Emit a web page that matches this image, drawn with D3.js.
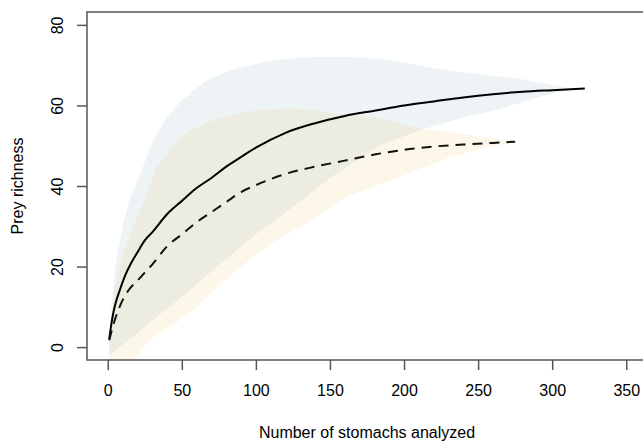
<!DOCTYPE html>
<html>
<head>
<meta charset="utf-8">
<script src="https://cdn.jsdelivr.net/npm/d3@7"></script>
<style>
  body { margin: 0; background: #fff; }
  svg { display: block; font-family: "Liberation Sans", Arial, sans-serif; }
</style>
</head>
<body>
<svg id="chart"></svg>
<script>
// mean accumulation curves (solid = group A, dashed = group B)
var solidX = [1, 3, 5, 8, 12, 16, 20, 25, 30, 40, 50, 60, 70, 80, 90, 100, 120, 140, 160, 180, 200, 220, 240, 260, 280, 300, 322];
var solidY = [2, 7, 10.5, 14, 18, 21, 23.5, 26.5, 28.5, 33, 36.3, 39.5, 42, 44.8, 47.2, 49.5, 53.2, 55.6, 57.4, 58.7, 60, 61, 62, 62.8, 63.4, 63.8, 64.2];

var dashX = [1, 3, 5, 8, 12, 16, 20, 25, 30, 40, 50, 60, 70, 80, 90, 100, 120, 140, 160, 180, 200, 220, 240, 260, 275];
var dashY = [1.7, 4.5, 7, 10, 13, 15, 16.5, 18.5, 20.5, 25, 28, 31, 33.5, 36, 38.5, 40.2, 43, 44.8, 46.3, 47.8, 49, 49.8, 50.3, 50.7, 51];

// confidence band of the solid curve
var solidUpX = [1, 3, 5, 10, 15, 21, 27, 33, 40, 48, 57, 66, 78, 89, 105, 122, 140, 160, 183, 200, 217, 235, 250, 265, 278, 295, 311, 322];
var solidUpY = [2, 12, 20, 30, 37, 42, 48, 53, 57, 60.5, 63.5, 66, 68, 69.4, 70.8, 71.6, 72, 72, 71.6, 70.6, 69.4, 68.4, 67.8, 67.2, 66.6, 65.4, 64.3, 64.2];
var solidLoX = [1, 10, 20, 28, 40, 55, 77, 100, 122, 150, 183, 212, 240, 264, 290, 312, 322];
var solidLoY = [-2, 0.5, 3.5, 6, 9.5, 14, 21, 28, 34, 42, 50, 54, 57, 59, 62, 64, 64.2];

// confidence band of the dashed curve
var dashUpX = [1, 3, 6, 10, 16, 21, 27, 33, 44, 55, 66, 77, 100, 122, 140, 150, 183, 212, 230, 250, 275];
var dashUpY = [2, 10, 17, 23, 29, 33, 39, 44.6, 50, 53.8, 55.6, 57.1, 58.8, 59.3, 58.9, 58.2, 56.8, 54.2, 53.5, 52.3, 51];
var dashLoX = [1, 15, 28, 55, 84, 113, 129, 163, 196, 230, 255, 275];
var dashLoY = [-6, -4, 1.7, 8.3, 18.3, 26.5, 29.7, 37.6, 42.1, 47, 49.5, 51];

var xTicks = [0, 50, 100, 150, 200, 250, 300, 350];
var yTicks = [0, 20, 40, 60, 80];

var width = 643,
    height = 442;
var margin = {top: 12, left: 87, bottom: 82, right: -4};

var svg = d3.select('#chart')
  .attr('width', width)
  .attr('height', height);

var x = d3.scaleLinear()
  .domain([-14, 364])
  .range([margin.left, width - margin.right]);
var y = d3.scaleLinear()
  .domain([-3.2, 83.2])
  .range([height - margin.bottom, margin.top]);

// clip polygons to the plot region like base R does
svg.append('clipPath')
  .attr('id', 'plotclip')
  .append('rect')
  .attr('x', x.range()[0])
  .attr('y', y.range()[1])
  .attr('width', x.range()[1] - x.range()[0])
  .attr('height', y.range()[0] - y.range()[1]);

var plot = svg.append('g').attr('clip-path', 'url(#plotclip)');

function band(upX, upY, loX, loY) {
  var pts = upX.map((v, i) => [x(v), y(upY[i])]);
  var lo = loX.map((v, i) => [x(v), y(loY[i])]).reverse();
  return 'M' + pts.concat(lo).join('L') + 'Z';
}

plot.append('path')
  .attr('d', band(solidUpX, solidUpY, solidLoX, solidLoY))
  .style('fill', '#eef4f6');

plot.append('path')
  .attr('d', band(dashUpX, dashUpY, dashLoX, dashLoY))
  .style('fill', '#fdf7ea')
  .style('mix-blend-mode', 'multiply');

var line = d3.line()
  .x(d => x(d[0]))
  .y(d => y(d[1]))
  .curve(d3.curveMonotoneX);

plot.append('path')
  .datum(solidX.map((v, i) => [v, solidY[i]]))
  .attr('d', line)
  .style('fill', 'none')
  .style('stroke', '#000')
  .style('stroke-width', 2);

plot.append('path')
  .datum(dashX.map((v, i) => [v, dashY[i]]))
  .attr('d', line)
  .style('fill', 'none')
  .style('stroke', '#111')
  .style('stroke-width', 2)
  .style('stroke-dasharray', '10,7');

// box
svg.append('rect')
  .attr('x', x.range()[0])
  .attr('y', y.range()[1])
  .attr('width', x.range()[1] - x.range()[0])
  .attr('height', y.range()[0] - y.range()[1])
  .style('fill', 'none')
  .style('stroke', '#555')
  .style('stroke-width', 1.5);

// axes
var xAxis = svg.append('g')
  .attr('transform', 'translate(0,' + y.range()[0] + ')')
  .call(d3.axisBottom(x).tickValues(xTicks).tickSize(10).tickPadding(15).tickSizeOuter(0));
var yAxis = svg.append('g')
  .attr('transform', 'translate(' + x.range()[0] + ',0)')
  .call(d3.axisLeft(y).tickValues(yTicks).tickSize(10).tickSizeOuter(0));

[xAxis, yAxis].forEach(a => {
  a.select('.domain').remove();
  a.selectAll('line').style('stroke', '#555').style('stroke-width', 1.5);
  a.selectAll('text')
    .style('font-family', '"Liberation Sans", Arial, sans-serif')
    .style('font-size', '16px')
    .style('fill', '#000');
});

// R style rotated y labels
yAxis.selectAll('text')
  .attr('x', null)
  .attr('dy', null)
  .attr('text-anchor', 'middle')
  .attr('transform', 'translate(-30,0) rotate(-90)')
  .attr('dominant-baseline', 'central');

svg.append('text')
  .attr('x', (x.range()[0] + x.range()[1]) / 2)
  .attr('y', 438)
  .attr('text-anchor', 'middle')
  .style('font-size', '16px')
  .text('Number of stomachs analyzed');

svg.append('text')
  .attr('transform', 'translate(23,' + (y.range()[0] + y.range()[1]) / 2 + ') rotate(-90)')
  .attr('text-anchor', 'middle')
  .style('font-size', '16px')
  .text('Prey richness');
</script>
</body>
</html>
